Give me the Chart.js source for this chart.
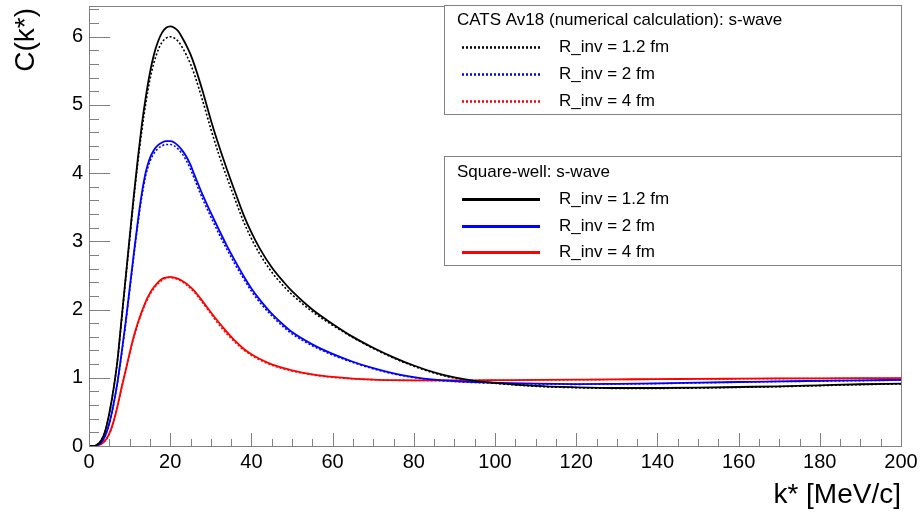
<!DOCTYPE html>
<html>
<head>
<meta charset="utf-8">
<script src="https://cdn.jsdelivr.net/npm/chart.js@4.4.1/dist/chart.umd.min.js"></script>
<style>
  html, body { margin: 0; padding: 0; background: #fff; }
  canvas { display: block; }
</style>
</head>
<body>
<canvas id="cf" width="921" height="513"></canvas>
<script>
// k* grid (MeV/c) the curves were read at
const kStar = [0, 1, 2, 3, 4, 5, 6, 7, 8, 9, 10, 11, 12, 13, 14, 15, 16, 17, 18, 19, 20,
  21, 22, 23, 24, 25, 26, 28, 30, 32, 34, 36, 38, 40, 42, 45, 48, 50,
  55, 60, 65, 70, 75, 80, 85, 90, 95, 100,
  110, 120, 130, 140, 150, 160, 170, 180, 190, 200];

// CATS Av18, dotted
const catsR12 = [0, 0, 0.02, 0.08, 0.22, 0.47, 0.81, 1.24, 1.83, 2.43, 3.02, 3.6, 4.14, 4.62, 5.03, 5.37, 5.62, 5.8, 5.92, 5.98, 6.0,
  5.98, 5.93, 5.84, 5.73, 5.6, 5.44, 5.06, 4.65, 4.27, 3.93, 3.61, 3.3, 3.04, 2.82, 2.55, 2.34, 2.22,
  1.97, 1.77, 1.59, 1.43, 1.29, 1.17, 1.07, 0.995, 0.95, 0.92,
  0.875, 0.855, 0.845, 0.845, 0.85, 0.86, 0.87, 0.885, 0.9, 0.91];
const catsR2 = [0, 0, 0.01, 0.05, 0.15, 0.33, 0.59, 0.92, 1.33, 1.78, 2.27, 2.76, 3.24, 3.65, 3.97, 4.17, 4.29, 4.36, 4.4, 4.42, 4.42,
  4.4, 4.35, 4.28, 4.18, 4.06, 3.91, 3.62, 3.36, 3.11, 2.88, 2.66, 2.46, 2.27, 2.11, 1.91, 1.74, 1.645,
  1.47, 1.335, 1.225, 1.132, 1.058, 1.003, 0.967, 0.945, 0.93, 0.92,
  0.908, 0.904, 0.908, 0.915, 0.925, 0.935, 0.945, 0.95, 0.958, 0.965];
const catsR4 = [0, 0, 0.01, 0.03, 0.08, 0.18, 0.34, 0.57, 0.84, 1.09, 1.35, 1.58, 1.78, 1.95, 2.1, 2.22, 2.31, 2.38, 2.43, 2.46, 2.47,
  2.46, 2.44, 2.41, 2.36, 2.31, 2.25, 2.1, 1.94, 1.78, 1.64, 1.52, 1.415, 1.33, 1.264, 1.186, 1.13, 1.1,
  1.045, 1.008, 0.985, 0.972, 0.964, 0.96, 0.959, 0.96, 0.961, 0.963,
  0.967, 0.971, 0.975, 0.978, 0.982, 0.985, 0.988, 0.99, 0.992, 0.994];

// Square-well, solid
const swR12 = [0, 0, 0.02, 0.08, 0.22, 0.48, 0.82, 1.25, 1.85, 2.45, 3.05, 3.65, 4.2, 4.7, 5.12, 5.47, 5.74, 5.93, 6.06, 6.13, 6.15,
  6.13, 6.08, 5.98, 5.87, 5.74, 5.58, 5.2, 4.78, 4.4, 4.05, 3.72, 3.4, 3.13, 2.9, 2.62, 2.4, 2.27,
  2.0, 1.79, 1.6, 1.44, 1.3, 1.18, 1.08, 1.005, 0.955, 0.925,
  0.88, 0.86, 0.85, 0.85, 0.855, 0.865, 0.875, 0.89, 0.905, 0.915];
const swR2 = [0, 0, 0.01, 0.05, 0.15, 0.33, 0.6, 0.93, 1.35, 1.8, 2.3, 2.8, 3.28, 3.7, 4.02, 4.22, 4.34, 4.41, 4.45, 4.47, 4.47,
  4.45, 4.4, 4.33, 4.24, 4.12, 3.97, 3.68, 3.42, 3.17, 2.93, 2.71, 2.5, 2.31, 2.15, 1.94, 1.77, 1.67,
  1.49, 1.35, 1.235, 1.14, 1.065, 1.01, 0.972, 0.95, 0.936, 0.927,
  0.913, 0.908, 0.912, 0.918, 0.928, 0.938, 0.948, 0.955, 0.962, 0.97];
const swR4 = [0, 0, 0.01, 0.03, 0.08, 0.18, 0.35, 0.58, 0.85, 1.1, 1.36, 1.6, 1.8, 1.97, 2.12, 2.24, 2.33, 2.4, 2.45, 2.47, 2.48,
  2.47, 2.45, 2.42, 2.38, 2.33, 2.27, 2.12, 1.96, 1.81, 1.67, 1.54, 1.43, 1.345, 1.278, 1.196, 1.14, 1.11,
  1.05, 1.012, 0.988, 0.974, 0.966, 0.962, 0.961, 0.962, 0.963, 0.965,
  0.969, 0.973, 0.977, 0.98, 0.984, 0.987, 0.99, 0.992, 0.994, 0.996];

const xTicks = [0, 20, 40, 60, 80, 100, 120, 140, 160, 180, 200];
const yTicks = [0, 1, 2, 3, 4, 5, 6];

const FONT = '"Liberation Sans", Arial, Helvetica, sans-serif';
const AXIS_GRAY = '#808080';

function pts(ys) {
  return kStar.map((k, i) => ({ x: k, y: ys[i] }));
}

function curve(label, ys, color, dotted) {
  return {
    label: label,
    data: pts(ys),
    borderColor: color,
    backgroundColor: color,
    borderWidth: dotted ? 1.6 : 1.8,
    borderDash: dotted ? [2, 2] : [],
    pointRadius: 0,
    cubicInterpolationMode: 'monotone',
    fill: false,
    group: dotted ? 'cats' : 'sw'
  };
}

const datasets = [
  curve('R_inv = 1.2 fm', swR12, '#000000', false),
  curve('R_inv = 2 fm', swR2, '#0000ff', false),
  curve('R_inv = 4 fm', swR4, '#ff0000', false),
  curve('R_inv = 1.2 fm', catsR12, '#000000', true),
  curve('R_inv = 2 fm', catsR2, '#0000ff', true),
  curve('R_inv = 4 fm', catsR4, '#ff0000', true)
];

// ROOT-like frame, inward ticks and axis titles
const rootFrame = {
  id: 'rootFrame',
  afterDraw(chart) {
    const { ctx, chartArea: a, scales: { x, y } } = chart;
    ctx.save();
    ctx.strokeStyle = AXIS_GRAY;
    ctx.lineWidth = 1;
    ctx.strokeRect(a.left + 0.5, a.top + 0.5, a.right - a.left, a.bottom - a.top);

    ctx.beginPath();
    for (let v = x.min; v <= x.max + 1e-9; v += 5) {
      const px = Math.round(x.getPixelForValue(v)) + 0.5;
      const len = (v % 20 === 0) ? 13 : 7;
      ctx.moveTo(px, a.bottom);
      ctx.lineTo(px, a.bottom - len);
    }
    for (let i = 0; i * 0.2 <= y.max + 1e-9; i++) {
      const v = i * 0.2;
      const py = Math.round(y.getPixelForValue(v)) + 0.5;
      const len = (i % 5 === 0) ? 21 : 10;
      ctx.moveTo(a.left, py);
      ctx.lineTo(a.left + len, py);
    }
    ctx.stroke();

    ctx.fillStyle = '#000';
    ctx.font = '28px ' + FONT;
    ctx.textAlign = 'right';
    ctx.textBaseline = 'alphabetic';
    ctx.fillText('k* [MeV/c]', a.right, 503);

    ctx.translate(34, 8);
    ctx.rotate(-Math.PI / 2);
    ctx.fillText('C(k*)', 0, 0);
    ctx.restore();
  }
};

// two ROOT-style legend boxes
const legendBoxes = [
  { header: 'CATS Av18 (numerical calculation): s-wave', group: 'cats', top: 5, rows: [20, 47, 74, 101] },
  { header: 'Square-well: s-wave', group: 'sw', top: 156, rows: [172, 199, 226, 252] }
];

const rootLegend = {
  id: 'rootLegend',
  afterDraw(chart) {
    const { ctx, chartArea: a } = chart;
    ctx.save();
    legendBoxes.forEach((box) => {
      const left = 444;
      const h = 109;
      ctx.fillStyle = '#fff';
      ctx.fillRect(left, box.top, a.right - left, h);
      ctx.strokeStyle = AXIS_GRAY;
      ctx.lineWidth = 1;
      ctx.strokeRect(left + 0.5, box.top + 0.5, a.right - left, h);

      ctx.font = '17px ' + FONT;
      ctx.fillStyle = '#000';
      ctx.textAlign = 'left';
      ctx.textBaseline = 'middle';
      ctx.fillText(box.header, 457, box.rows[0]);

      const entries = chart.data.datasets.filter((d) => d.group === box.group);
      entries.forEach((d, i) => {
        const yy = box.rows[i + 1] + 0.5;
        ctx.beginPath();
        ctx.strokeStyle = d.borderColor;
        ctx.lineWidth = box.group === 'cats' ? 2.5 : 3;
        ctx.setLineDash(box.group === 'cats' ? [2, 2] : []);
        ctx.moveTo(462, yy);
        ctx.lineTo(540, yy);
        ctx.stroke();
        ctx.setLineDash([]);
        ctx.fillStyle = '#000';
        ctx.fillText(d.label, 559, box.rows[i + 1]);
      });
    });
    ctx.restore();
  }
};

new Chart(document.getElementById('cf'), {
  type: 'line',
  data: { datasets: datasets },
  options: {
    responsive: false,
    animation: false,
    layout: { padding: { left: 0, right: 20, top: 6, bottom: 0 } },
    plugins: { legend: { display: false }, tooltip: { enabled: false } },
    scales: {
      x: {
        type: 'linear',
        min: 0,
        max: 200,
        grid: { display: false, drawTicks: false },
        border: { display: false },
        afterBuildTicks: (s) => { s.ticks = xTicks.map((v) => ({ value: v })); },
        ticks: {
          autoSkip: false,
          maxRotation: 0,
          padding: 4,
          color: '#000',
          font: { family: FONT, size: 20 }
        },
        afterFit: (s) => { s.height = 67; s.paddingLeft = 0; s.paddingRight = 0; }
      },
      y: {
        type: 'linear',
        min: 0,
        max: 6.45,
        grid: { display: false, drawTicks: false },
        border: { display: false },
        afterBuildTicks: (s) => { s.ticks = yTicks.map((v) => ({ value: v })); },
        ticks: {
          padding: 6,
          color: '#000',
          font: { family: FONT, size: 20 }
        },
        afterFit: (s) => { s.width = 89; s.paddingTop = 0; s.paddingBottom = 0; }
      }
    }
  },
  plugins: [rootFrame, rootLegend]
});
</script>
</body>
</html>
